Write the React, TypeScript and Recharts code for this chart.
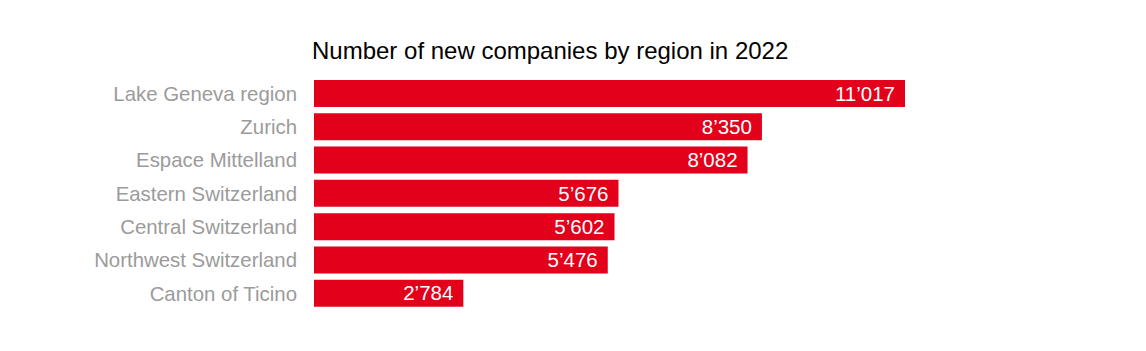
import React from 'react';
import { BarChart, Bar, XAxis, YAxis, LabelList } from 'recharts';

// Regionen und Anzahl Neugründungen 2022
const regions = [
  'Lake Geneva region',
  'Zurich',
  'Espace Mittelland',
  'Eastern Switzerland',
  'Central Switzerland',
  'Northwest Switzerland',
  'Canton of Ticino',
];
const newCompanies = [11017, 8350, 8082, 5676, 5602, 5476, 2784];

const title = 'Number of new companies by region in 2022';

const data = regions.map((region, i) => ({ region, value: newCompanies[i] }));

// Schweizer Tausendertrennzeichen
const formatCH = (v: number) => String(v).replace(/\B(?=(\d{3})+(?!\d))/g, '\u2019');

const FONT = '"Liberation Sans", Arial, Helvetica, sans-serif';

export default function App() {
  return (
    <div style={{ position: 'relative', width: 1130, height: 335, fontFamily: FONT }}>
      <div
        style={{
          position: 'absolute',
          left: 304,
          top: 29,
          fontSize: 24,
          lineHeight: '28px',
          color: '#000',
          whiteSpace: 'nowrap',
        }}
      >
        {title}
      </div>
      <BarChart
        width={1130}
        height={335}
        data={data}
        layout="vertical"
        margin={{ top: 69, right: 233, bottom: 33, left: 0 }}
      >
        <XAxis type="number" hide domain={[0, 11017]} />
        <YAxis
          type="category"
          dataKey="region"
          width={306}
          axisLine={false}
          tickLine={false}
          tickSize={0}
          tickMargin={17}
          tick={{ fill: '#9b9b9b', fontSize: 20.4, fontFamily: FONT }}
        />
        <Bar dataKey="value" fill="#e2001a" barSize={27} isAnimationActive={false}>
          <LabelList
            dataKey="value"
            position="insideRight"
            offset={10}
            formatter={(v: any) => formatCH(Number(v))}
            style={{ fill: '#fff', fontSize: 20.5, fontFamily: FONT }}
          />
        </Bar>
      </BarChart>
    </div>
  );
}
